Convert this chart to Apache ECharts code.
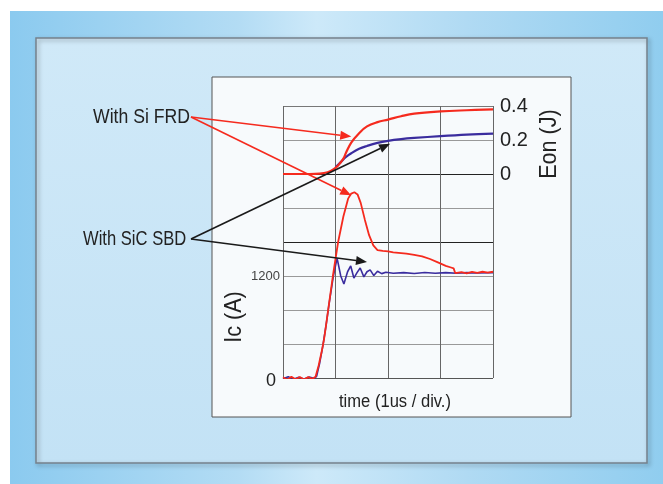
<!DOCTYPE html>
<html>
<head>
<meta charset="utf-8">
<script src="https://cdn.jsdelivr.net/npm/echarts@6/dist/echarts.min.js"></script>
<style>
html,body{margin:0;padding:0;background:#ffffff;}
#c{width:663px;height:484px;}
</style>
</head>
<body>
<div id="c"></div>
<script>
// time in divisions (1 us / div)
const timeTicks = [0, 1, 2, 3, 4];
const icTickLabels = ['0', '1200'];
const eonTickLabels = ['0', '0.2', '0.4'];

// Eon (J) vs time
const eonSiFRD = [[0,0],[0.5,0],[0.7,0.002],[0.85,0.01],[0.95,0.025],[1.05,0.05],[1.15,0.09],[1.2,0.125],[1.3,0.185],[1.45,0.24],[1.6,0.28],[1.8,0.305],[2.0,0.32],[2.25,0.34],[2.5,0.355],[3.0,0.368],[3.5,0.375],[4.0,0.38]];
const eonSiCSBD = [[1.0,0.04],[1.1,0.07],[1.2,0.1],[1.3,0.122],[1.45,0.148],[1.6,0.165],[1.8,0.183],[2.0,0.195],[2.25,0.205],[2.5,0.212],[3.0,0.223],[3.5,0.232],[4.0,0.238]];

// Ic (A) vs time
const icSiFRD = [[0,10],[0.08,-20],[0.16,15],[0.24,-15],[0.32,12],[0.4,-18],[0.48,10],[0.56,-10],[0.62,15],[0.68,150],[0.74,320],[0.78,450],[0.82,620],[0.86,800],[0.95,1200],[1.05,1600],[1.15,1900],[1.24,2110],[1.3,2170],[1.36,2185],[1.42,2160],[1.48,2060],[1.56,1860],[1.64,1680],[1.72,1560],[1.8,1505],[1.9,1495],[2.0,1490],[2.1,1478],[2.2,1472],[2.35,1462],[2.5,1448],[2.65,1432],[2.8,1400],[2.95,1360],[3.1,1320],[3.2,1300],[3.25,1290],[3.28,1235],[3.4,1245],[3.5,1232],[3.6,1248],[3.7,1236],[3.8,1250],[3.9,1240],[4.0,1250]];
const icSiCSBD = [[0,-10],[0.1,15],[0.2,-15],[0.3,10],[0.4,-12],[0.5,12],[0.6,-5],[0.64,20],[0.7,180],[0.76,380],[0.82,620],[0.88,880],[0.96,1200],[1.03,1410],[1.1,1200],[1.16,1105],[1.23,1250],[1.29,1318],[1.35,1176],[1.41,1240],[1.47,1294],[1.54,1190],[1.6,1250],[1.66,1272],[1.73,1205],[1.8,1255],[1.88,1228],[1.96,1245],[2.1,1232],[2.3,1240],[2.5,1230],[2.7,1242],[2.9,1232],[3.1,1240],[3.3,1232],[3.5,1240],[3.7,1235],[4.0,1240]];

const RED = '#f52a1e';
const BLUE = '#3a2c9e';
const FONT = '"Liberation Sans",Arial,sans-serif';

const chart = echarts.init(document.getElementById('c'), null, {renderer:'canvas'});

const hColors = ['#555','#999','#999','#999','#222','#999','#222','#999','#777'];

const bgGraphics = [
  {type:'rect', id:'bg', z:-30, shape:{x:10,y:11,width:653,height:473},
   style:{fill:new echarts.graphic.LinearGradient(0,0,1,0,[
     {offset:0,color:'#8bcaef'},{offset:0.35,color:'#b3dcf4'},{offset:0.47,color:'#cde9f9'},
     {offset:0.7,color:'#b0daf3'},{offset:1,color:'#90cdef'}])}},
  {type:'rect', id:'panel', z:-20, shape:{x:36,y:38,width:611,height:425},
   style:{fill:new echarts.graphic.LinearGradient(0,0,0,1,[
     {offset:0,color:'#d0e9f8'},{offset:1,color:'#c3e2f5'}]),
     stroke:'#76818c', lineWidth:1.5, shadowBlur:4, shadowOffsetX:2, shadowOffsetY:2, shadowColor:'rgba(0,0,0,0.35)'}},
  {type:'rect', id:'inner', z:-10, shape:{x:212,y:77,width:359,height:340},
   style:{fill:'#f7fafc', stroke:'#555', lineWidth:1}},
  {type:'text', id:'t1', z:50, x:93, y:117, scaleX:0.84, style:{text:'With Si FRD', font:'21px '+FONT, fill:'#222', textVerticalAlign:'middle', textAlign:'left'}},
  {type:'text', id:'t2', z:50, x:83, y:239, scaleX:0.79, style:{text:'With SiC SBD', font:'21px '+FONT, fill:'#222', textVerticalAlign:'middle', textAlign:'left'}},
  {type:'text', id:'eonName', z:50, x:549, y:144, rotation:Math.PI/2, scaleX:0.9, style:{text:'Eon (J)', font:'24px '+FONT, fill:'#222', textAlign:'center', textVerticalAlign:'middle'}},
  {type:'text', id:'icName', z:50, x:234, y:317, rotation:Math.PI/2, scaleX:0.9, style:{text:'Ic (A)', font:'24px '+FONT, fill:'#222', textAlign:'center', textVerticalAlign:'middle'}},
  {type:'text', id:'xName', z:50, x:395, y:402, scaleX:0.92, style:{text:'time (1us / div.)', font:'18px '+FONT, fill:'#222', textAlign:'center', textVerticalAlign:'middle'}}
];

const option = {
  animation:false,
  backgroundColor:'#ffffff',
  grid:{left:283, top:106, width:210, height:272, show:false},
  xAxis:{type:'value', min:0, max:4, interval:1,
    axisLine:{show:false}, axisTick:{show:false}, axisLabel:{show:false},
    splitLine:{show:true, lineStyle:{color:'#666', width:1}}},
  yAxis:[
    {type:'value', min:0, max:3200, interval:400, position:'left',
     axisLine:{show:false}, axisTick:{show:false},
     splitLine:{show:true, lineStyle:{color:hColors, width:1}},
     axisLabel:{show:true, margin:3, formatter:function(v){
        if (v===0) return '{a|'+icTickLabels[0]+'}';
        if (v===1200) return '{b|'+icTickLabels[1]+'}';
        return '';},
        rich:{a:{fontFamily:FONT, fontSize:18, color:'#222', padding:[6,4,0,0]},
              b:{fontFamily:FONT, fontSize:13, color:'#444', padding:[0,0,0,0]}}}},
    {type:'value', min:-1.2, max:0.4, interval:0.2, position:'right',
     axisLine:{show:false}, axisTick:{show:false}, splitLine:{show:false},
     axisLabel:{show:true, margin:7, fontFamily:FONT, fontSize:20, color:'#222',
       formatter:function(v){
         if (Math.abs(v)<1e-6) return eonTickLabels[0];
         if (Math.abs(v-0.2)<1e-6) return eonTickLabels[1];
         if (Math.abs(v-0.4)<1e-6) return eonTickLabels[2];
         return '';}}}
  ],
  series:[
    {type:'line', name:'Eon SiC SBD', yAxisIndex:1, data:eonSiCSBD, showSymbol:false, smooth:0.4,
     lineStyle:{color:BLUE, width:2.2}, z:3},
    {type:'line', name:'Eon Si FRD', yAxisIndex:1, data:eonSiFRD, showSymbol:false, smooth:0.4,
     lineStyle:{color:RED, width:2.2}, z:4},
    {type:'line', name:'Ic SiC SBD', yAxisIndex:0, data:icSiCSBD, showSymbol:false,
     lineStyle:{color:BLUE, width:1.6}, z:3},
    {type:'line', name:'Ic Si FRD', yAxisIndex:0, data:icSiFRD, showSymbol:false,
     lineStyle:{color:RED, width:1.8}, z:4}
  ],
  graphic:bgGraphics
};
chart.setOption(option);

function arrow(id, x1, y1, x2, y2, color){
  const ang = Math.atan2(y2-y1, x2-x1);
  const L = 11, W = 4.5;
  const bx = x2 - L*Math.cos(ang), by = y2 - L*Math.sin(ang);
  const px = -Math.sin(ang), py = Math.cos(ang);
  return [
    {type:'line', id:id+'l', z:60, shape:{x1:x1,y1:y1,x2:bx,y2:by}, style:{stroke:color, lineWidth:1.6}},
    {type:'polygon', id:id+'h', z:60, shape:{points:[[x2,y2],[bx+W*px,by+W*py],[bx-W*px,by-W*py]]}, style:{fill:color}}
  ];
}
// annotation tips, in data coordinates
const p1 = chart.convertToPixel({xAxisIndex:0, yAxisIndex:1}, [1.3, 0.22]);
const p2 = chart.convertToPixel({xAxisIndex:0, yAxisIndex:0}, [1.3, 2150]);
const p3 = chart.convertToPixel({xAxisIndex:0, yAxisIndex:1}, [2.04, 0.178]);
const p4 = chart.convertToPixel({xAxisIndex:0, yAxisIndex:0}, [1.6, 1365]);
const arrows = [].concat(
  arrow('a1', 191, 117, p1[0], p1[1], RED),
  arrow('a2', 191, 117, p2[0], p2[1], RED),
  arrow('a3', 191, 239, p3[0], p3[1], '#1a1a1a'),
  arrow('a4', 191, 239, p4[0], p4[1], '#1a1a1a')
);
chart.setOption({graphic: bgGraphics.concat(arrows)});
</script>
</body>
</html>
